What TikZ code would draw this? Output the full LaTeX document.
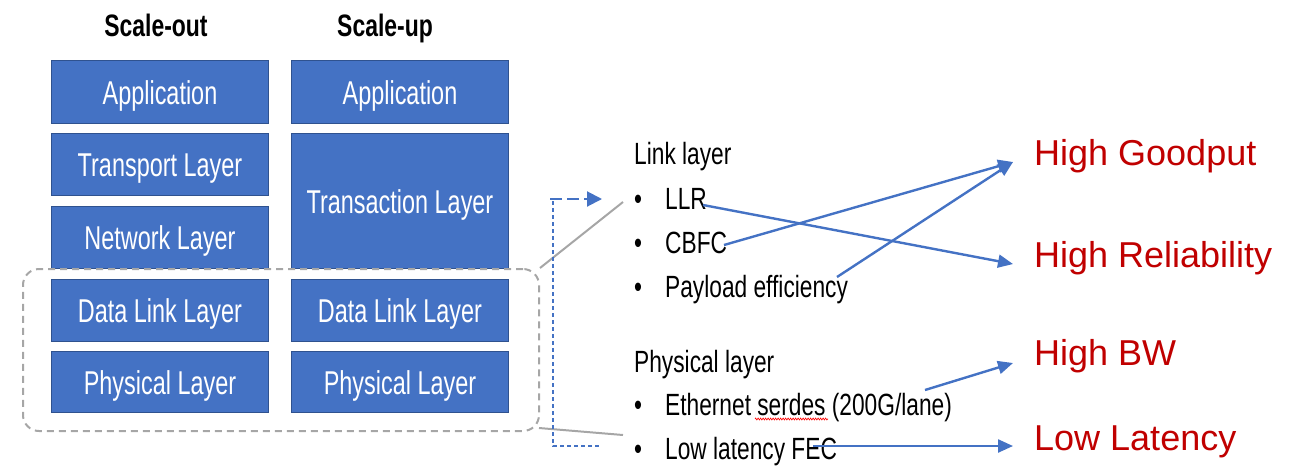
\documentclass[tikz,border=0pt]{standalone}
\usepackage{fontspec}
\setmainfont{Liberation Sans}
\newfontfamily\condfont[FakeStretch=0.74]{Liberation Sans}
\newfontfamily\boxfontfam[FakeStretch=0.71]{Liberation Sans}
\usetikzlibrary{arrows.meta,decorations.pathmorphing}
\definecolor{boxblue}{HTML}{4472C4}
\definecolor{boxedge}{HTML}{2F528F}
\definecolor{arrowblue}{HTML}{4472C4}
\definecolor{grayline}{HTML}{A6A6A6}
\definecolor{labelred}{HTML}{C00000}
\begin{document}
\begin{tikzpicture}[x=1pt,y=-1pt,
  layerbox/.style={draw=boxedge, line width=1.5pt, fill=boxblue, text=white,
    font=\boxfontfam\fontsize{33}{36}\selectfont, inner sep=0pt,
    text height=31pt, text depth=7pt,
    anchor=north west, minimum width=217pt},
  coltitle/.style={font=\condfont\bfseries\fontsize{31}{34}\selectfont, anchor=base, inner sep=0pt},
  txt/.style={font=\condfont\fontsize{30.7}{34}\selectfont, anchor=base west, inner sep=0pt},
  goal/.style={font=\fontsize{36}{40}\selectfont, text=labelred, anchor=base west, inner sep=0pt},
  link/.style={draw=arrowblue, line width=2.4pt, -{Triangle[length=15pt,width=13pt]}},
  grayconn/.style={draw=grayline, line width=2pt},
  groupbox/.style={draw=grayline, line width=2pt, dash pattern=on 7pt off 5pt,
    rounded corners=16pt, inner sep=0pt, anchor=north west},
  ptrarrow/.style={draw=arrowblue, line width=2pt, dash pattern=on 12pt off 5pt,
    -{Triangle[length=15pt,width=15pt]}},
  dotline/.style={draw=arrowblue, line width=1.2pt, dash pattern=on 4pt off 3pt},
  squiggle/.style={draw=red, line width=0.6pt, decorate,
    decoration={zigzag, amplitude=1pt, segment length=2.5pt}}
]
\useasboundingbox (0,0) rectangle (1289,469);

% titles
\node[coltitle] (tOut) at (156,36) {Scale-out};
\node[coltitle] (tUp) at (385,36) {Scale-up};

% left stack
\node[layerbox, minimum height=63pt] (lApp) at (50.75,59.75) {Application};
\node[layerbox, minimum height=62pt] (lTra) at (50.75,132.75) {Transport Layer};
\node[layerbox, minimum height=62pt] (lNet) at (50.75,205.75) {Network Layer};
\node[layerbox, minimum height=62pt] (lDL) at (50.75,278.75) {Data Link Layer};
\node[layerbox, minimum height=61pt] (lPhy) at (50.75,350.75) {Physical Layer};

% right stack
\node[layerbox, minimum height=63pt] (rApp) at (290.75,59.75) {Application};
\node[layerbox, minimum height=135pt] (rTrn) at (290.75,132.75) {Transaction Layer};
\node[layerbox, minimum height=62pt] (rDL) at (290.75,278.75) {Data Link Layer};
\node[layerbox, minimum height=61pt] (rPhy) at (290.75,350.75) {Physical Layer};

% dashed group
\node[groupbox, minimum width=516pt, minimum height=162pt] (grp) at (22,268) {};

% zoom lines
\coordinate (zTop) at (623,202);
\coordinate (zBot) at (623,435);
\draw[grayconn] (grp.north east) -- (zTop);
\path (grp.south east) ++(-1,-4) coordinate (grpSE);
\draw[grayconn] (grpSE) -- (zBot);

% pointer arrow and dotted line
\coordinate (pA) at (550,199);
\coordinate (pB) at (602,199);
\coordinate (dA) at (553,201);
\coordinate (dB) at (600,446);
\draw[ptrarrow] (pA) -- (pB);
\draw[dotline] (dA) |- (dB);

% link layer text
\node[txt] (hLink) at (634,164) {Link layer};
\node[txt] (iLLR) at (634,209) {\makebox[31pt][l]{\textbullet}LLR};
\node[txt] (iCBFC) at (634,253) {\makebox[31pt][l]{\textbullet}CBFC};
\node[txt] (iPay) at (634,297) {\makebox[31pt][l]{\textbullet}Payload efficiency};

% physical layer text
\node[txt] (hPhy) at (634,372) {Physical layer};
\node[txt] (iEth) at (634,415) {\makebox[31pt][l]{\textbullet}Ethernet serdes (200G/lane)};
\node[txt] (iFEC) at (634,459) {\makebox[31pt][l]{\textbullet}Low latency FEC};

\coordinate (sqA) at (755,419);
\coordinate (sqB) at (828,419);
\draw[squiggle] (sqA) -- (sqB);

% goals
\node[goal] (gGood) at (1034,165) {High Goodput};
\node[goal] (gRel) at (1034,267) {High Reliability};
\node[goal] (gBW) at (1034,365) {High BW};
\node[goal] (gLat) at (1034,450) {Low Latency};

% arrow ends
\coordinate (sLLR) at (703,205);
\coordinate (sCBFC) at (724,245);
\coordinate (sPay) at (837,277);
\coordinate (sEth) at (925,390);
\coordinate (sFEC) at (813,446);
\coordinate (tGood) at (1013,162);
\coordinate (tRel) at (1013,264);
\coordinate (tBW) at (1013,363);
\coordinate (tLat) at (1013,446);

\draw[link] (sLLR) -- (tRel);
\draw[link] (sCBFC) -- (tGood);
\draw[link] (sPay) -- (tGood);
\draw[link] (sEth) -- (tBW);
\draw[link] (sFEC) -- (tLat);
\end{tikzpicture}
\end{document}
